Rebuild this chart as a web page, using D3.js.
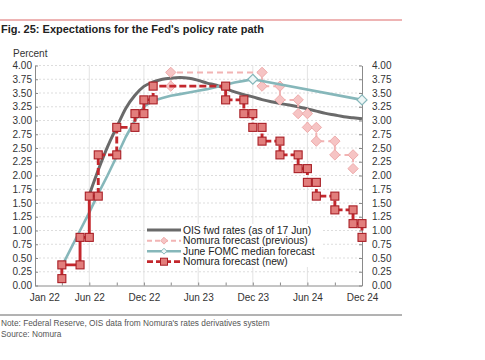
<!DOCTYPE html>
<html>
<head>
<meta charset="utf-8">
<script src="https://cdn.jsdelivr.net/npm/d3@7"></script>
<style>
  body { margin: 0; background: #fff; }
  text { font-family: "Liberation Sans", Arial, sans-serif; }
</style>
</head>
<body>
<div id="chart"></div>
<script>
// ---- data ----
var title = "Fig. 25: Expectations for the Fed's policy rate path";
var yTicks = [0, 0.25, 0.5, 0.75, 1, 1.25, 1.5, 1.75, 2, 2.25, 2.5, 2.75, 3, 3.25, 3.5, 3.75, 4];
var xLabelMonths = ["2022-01", "2022-06", "2022-12", "2023-06", "2023-12", "2024-06", "2024-12"];
var xLabels = ["Jan 22", "Jun 22", "Dec 22", "Jun 23", "Dec 23", "Jun 24", "Dec 24"];
var xTickMonths = ["2022-03", "2022-06", "2022-09", "2022-12", "2023-03", "2023-06", "2023-09", "2023-12", "2024-03", "2024-06", "2024-09"];
var gridMonths = ["2022-06", "2022-12", "2023-06", "2023-12", "2024-06"];

// OIS fwd rates (as of 17 Jun)
var oisMonths = ["2022-06", "2022-07", "2022-08", "2022-09", "2022-10", "2022-11", "2022-12",
  "2023-01", "2023-02", "2023-03", "2023-04", "2023-05", "2023-06", "2023-07", "2023-08", "2023-09",
  "2023-10", "2023-11", "2023-12", "2024-01", "2024-02", "2024-03", "2024-04", "2024-05", "2024-06",
  "2024-07", "2024-08", "2024-09", "2024-10", "2024-11", "2024-12"];
var oisRates = [1.65, 2.1, 2.52, 2.88, 3.22, 3.46, 3.62,
  3.7, 3.75, 3.77, 3.78, 3.77, 3.73, 3.68, 3.64, 3.58,
  3.52, 3.47, 3.43, 3.38, 3.34, 3.31, 3.28, 3.25, 3.21,
  3.17, 3.13, 3.1, 3.07, 3.05, 3.03];

// June FOMC median forecast
var fomcMonths = ["2022-03", "2022-04", "2022-05", "2022-06", "2022-07", "2022-08", "2022-09", "2022-10",
  "2022-11", "2022-12", "2023-01", "2023-02", "2023-03", "2023-04", "2023-05", "2023-06", "2023-07",
  "2023-08", "2023-09", "2023-10", "2023-11", "2023-12", "2024-12"];
var fomcRates = [0.35, 0.68, 1.0, 1.33, 1.67, 2.0, 2.35, 2.7,
  3.0, 3.25, 3.36, 3.41, 3.45, 3.48, 3.51, 3.54, 3.57,
  3.61, 3.65, 3.69, 3.72, 3.75, 3.375];
var fomcMarkerMonths = ["2023-12", "2024-12"];

// Nomura forecast (new): months where the rate steps, level before the first step
var newStart = 0.125;
var newStepMonths = ["2022-03", "2022-05", "2022-06", "2022-07", "2022-09", "2022-11", "2022-12", "2023-01",
  "2023-09", "2023-11", "2023-12", "2024-01", "2024-03", "2024-05", "2024-06", "2024-07", "2024-09",
  "2024-11", "2024-12"];
var newLevels = [0.375, 0.875, 1.625, 2.375, 2.875, 3.125, 3.375, 3.625,
  3.375, 3.125, 2.875, 2.625, 2.375, 2.125, 1.875, 1.625, 1.375,
  1.125, 0.875];
var newActualUntil = "2022-06"; // solid line up to here, dashed after

// Nomura forecast (previous)
var prevStart = 3.625;
var prevStepMonths = ["2023-03", "2024-01", "2024-03", "2024-05", "2024-06", "2024-07", "2024-09", "2024-11"];
var prevLevels = [3.875, 3.625, 3.375, 3.125, 2.875, 2.625, 2.375, 2.125];

var legendLabels = ["OIS fwd rates (as of 17 Jun)", "Nomura forecast (previous)", "June FOMC median forecast", "Nomura forecast (new)"];

// ---- chart ----
var width = 485, height = 360;
var parse = d3.timeParse("%Y-%m");
var cGray = "#6a6a6a", cPink = "#f2b4b4", cTeal = "#86b7ba", cRed = "#c3272d";

var svg = d3.select("#chart").append("svg")
  .attr("width", width).attr("height", height);

var x = d3.scaleTime().domain([parse("2021-12"), parse("2024-12")]).range([35, 362]);
var y = d3.scaleLinear().domain([0, 4]).range([285.5, 65.5]);

// header
svg.append("line").attr("x1", 0).attr("x2", 402).attr("y1", 20).attr("y2", 20)
  .attr("stroke", "#de6b6b").attr("stroke-width", 1.2);
svg.append("text").attr("x", 1).attr("y", 33).text(title)
  .attr("font-size", 11).attr("font-weight", "bold").attr("fill", "#222");
svg.append("text").attr("x", 13).attr("y", 57).text("Percent")
  .attr("font-size", 10).attr("fill", "#333");

// grid
svg.append("g").selectAll("line").data(yTicks.filter(function(d) { return d > 0; }))
  .enter().append("line")
  .attr("x1", 35).attr("x2", 362)
  .attr("y1", function(d) { return y(d); }).attr("y2", function(d) { return y(d); })
  .attr("stroke", "#cfcfcf").attr("stroke-width", 0.7).attr("stroke-dasharray", "2,2");
svg.append("g").selectAll("line").data(gridMonths)
  .enter().append("line")
  .attr("x1", function(d) { return x(parse(d)); }).attr("x2", function(d) { return x(parse(d)); })
  .attr("y1", y(4)).attr("y2", y(0))
  .attr("stroke", "#dcdcdc").attr("stroke-width", 0.8);

// axes
function styleAxis(g) {
  g.select(".domain").attr("stroke", "#8a8a8a");
  g.selectAll(".tick line").attr("stroke", "#8a8a8a");
  g.selectAll("text").attr("font-size", 10).attr("fill", "#333")
    .attr("font-family", "Liberation Sans, Arial, sans-serif");
}
svg.append("g").attr("transform", "translate(35,0)")
  .call(d3.axisLeft(y).tickValues(yTicks).tickFormat(d3.format(".2f")).tickSize(-3).tickSizeOuter(0).tickPadding(3))
  .call(styleAxis);
svg.append("g").attr("transform", "translate(362,0)")
  .call(d3.axisRight(y).tickValues(yTicks).tickFormat(d3.format(".2f")).tickSize(-3).tickSizeOuter(0).tickPadding(10))
  .call(styleAxis);
svg.append("g").attr("transform", "translate(0," + y(0) + ")")
  .call(d3.axisBottom(x).tickValues(xTickMonths.map(parse)).tickFormat("").tickSize(-3).tickSizeOuter(0))
  .call(styleAxis);
svg.append("g").attr("transform", "translate(0," + y(0) + ")")
  .call(d3.axisBottom(x).tickValues(xLabelMonths.map(parse))
    .tickFormat(function(d, i) { return xLabels[i]; }).tickSize(0).tickPadding(8))
  .call(styleAxis)
  .select(".domain").remove();

// helpers
function steps(start, months, levels) {
  var pts = [], prev = start;
  months.forEach(function(m, i) {
    pts.push({ date: parse(m), value: prev });
    pts.push({ date: parse(m), value: levels[i] });
    prev = levels[i];
  });
  return pts;
}
var line = d3.line().x(function(d) { return x(d.date); }).y(function(d) { return y(d.value); });
var smooth = d3.line().curve(d3.curveMonotoneX)
  .x(function(d) { return x(d.date); }).y(function(d) { return y(d.value); });
var diamond = d3.symbol().type(d3.symbolDiamond2);

// OIS
var ois = oisMonths.map(function(m, i) { return { date: parse(m), value: oisRates[i] }; });
svg.append("path").datum(ois).attr("d", smooth)
  .attr("fill", "none").attr("stroke", cGray).attr("stroke-width", 3);

// Nomura previous
var prev = steps(prevStart, prevStepMonths, prevLevels);
svg.append("path").datum(prev).attr("d", line)
  .attr("fill", "none").attr("stroke", cPink).attr("stroke-width", 2).attr("stroke-dasharray", "6,4");
svg.append("g").selectAll("path").data(prev).enter().append("path")
  .attr("d", diamond.size(68))
  .attr("transform", function(d) { return "translate(" + x(d.date) + "," + y(d.value) + ")"; })
  .attr("fill", "#f6c4c4").attr("stroke", "#eeaaaa").attr("stroke-width", 1);

// FOMC
var fomc = fomcMonths.map(function(m, i) { return { date: parse(m), value: fomcRates[i] }; });
svg.append("path").datum(fomc).attr("d", line)
  .attr("fill", "none").attr("stroke", cTeal).attr("stroke-width", 2.6).attr("stroke-linejoin", "round");
svg.append("g").selectAll("path")
  .data(fomc.filter(function(d) { return fomcMarkerMonths.indexOf(d3.timeFormat("%Y-%m")(d.date)) >= 0; }))
  .enter().append("path")
  .attr("d", diamond.size(64))
  .attr("transform", function(d) { return "translate(" + x(d.date) + "," + y(d.value) + ")"; })
  .attr("fill", "#eef6f6").attr("stroke", cTeal).attr("stroke-width", 1.2);

// Nomura new
var nw = steps(newStart, newStepMonths, newLevels);
var cut = 0;
nw.forEach(function(d, i) { if (d.date <= parse(newActualUntil)) cut = i; });
svg.append("path").datum(nw.slice(0, cut + 1)).attr("d", line)
  .attr("fill", "none").attr("stroke", cRed).attr("stroke-width", 2.9);
svg.append("path").datum(nw.slice(cut)).attr("d", line)
  .attr("fill", "none").attr("stroke", cRed).attr("stroke-width", 2.9).attr("stroke-dasharray", "7,3");
svg.append("g").selectAll("rect").data(nw).enter().append("rect")
  .attr("x", function(d) { return x(d.date) - 4; })
  .attr("y", function(d) { return y(d.value) - 4; })
  .attr("width", 8).attr("height", 8)
  .attr("fill", "#e27e7c").attr("stroke", "#a81e25").attr("stroke-width", 1.1);

// legend
var lg = svg.append("g");
lg.append("rect").attr("x", 145).attr("y", 224).attr("width", 177).attr("height", 43).attr("fill", "#fff");
var rowY = [230, 240.7, 251.2, 261.7];
legendLabels.forEach(function(t, i) {
  var yy = rowY[i];
  var l = lg.append("line").attr("x1", 147).attr("x2", 181).attr("y1", yy).attr("y2", yy);
  if (i === 0) l.attr("stroke", cGray).attr("stroke-width", 3);
  if (i === 1) {
    l.attr("stroke", cPink).attr("stroke-width", 2).attr("stroke-dasharray", "5,3");
    lg.append("path").attr("d", diamond.size(30)).attr("transform", "translate(164," + yy + ")")
      .attr("fill", "#f6c4c4").attr("stroke", "#eeaaaa");
  }
  if (i === 2) {
    l.attr("stroke", cTeal).attr("stroke-width", 2.4);
    lg.append("path").attr("d", diamond.size(22)).attr("transform", "translate(164," + yy + ")")
      .attr("fill", "#eef6f6").attr("stroke", cTeal);
  }
  if (i === 3) {
    l.attr("stroke", cRed).attr("stroke-width", 2.8).attr("stroke-dasharray", "6,3");
    lg.append("rect").attr("x", 160.5).attr("y", yy - 3.5).attr("width", 7).attr("height", 7)
      .attr("fill", "#e27e7c").attr("stroke", "#a81e25");
  }
  lg.append("text").attr("x", 183).attr("y", yy + 3.5).text(t)
    .attr("font-size", 10.3).attr("fill", "#222");
});

// footer
svg.append("line").attr("x1", 0).attr("x2", 402).attr("y1", 315).attr("y2", 315)
  .attr("stroke", "#666").attr("stroke-width", 1);
svg.append("text").attr("x", 1).attr("y", 326).text("Note: Federal Reserve, OIS data from Nomura's rates derivatives system")
  .attr("font-size", 8.3).attr("fill", "#555");
svg.append("text").attr("x", 1).attr("y", 337).text("Source: Nomura")
  .attr("font-size", 8.3).attr("fill", "#555");
</script>
</body>
</html>
